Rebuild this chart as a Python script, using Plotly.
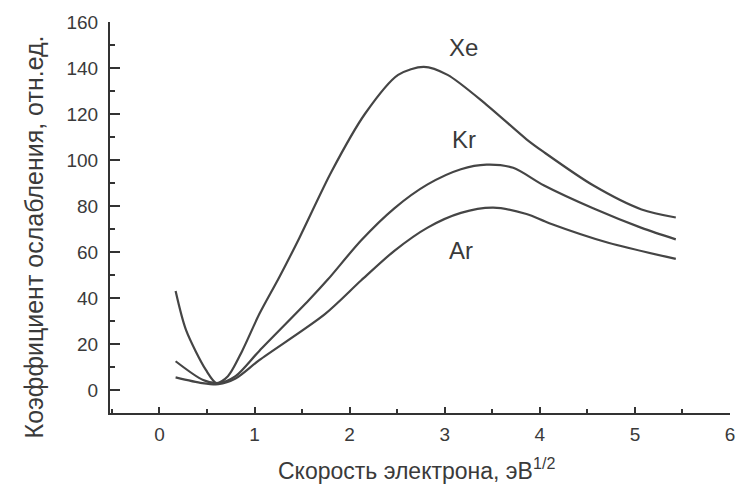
import plotly.graph_objects as go

# Data
xe_x = [0.17, 0.28, 0.49, 0.6, 0.72, 0.87, 1.05, 1.26, 1.47, 1.81, 2.16, 2.51, 2.78, 3.03, 3.44, 3.86, 4.04, 4.56, 5.07, 5.43]
xe_y = [43, 26, 8.6, 3, 6, 17, 33, 49, 66, 95, 120, 137, 140.5, 137, 124, 109, 103.5, 89, 78.5, 75]

kr_x = [0.17, 0.46, 0.62, 0.8, 1.05, 1.57, 1.77, 2.12, 2.47, 2.82, 3.17, 3.44, 3.72, 4.04, 4.56, 5.07, 5.43]
kr_y = [12.5, 4.3, 3, 6, 17, 39, 48, 65, 79, 89.4, 96, 98, 96.6, 89, 79, 70.5, 65.5]

ar_x = [0.17, 0.45, 0.62, 0.8, 1.05, 1.74, 2.12, 2.47, 2.82, 3.17, 3.51, 3.86, 4.1, 4.72, 5.43]
ar_y = [5.5, 3, 2.5, 5, 13, 33, 47.6, 60.5, 70.6, 77, 79.3, 76.5, 72.5, 64, 57]

series_names = ["Xe", "Kr", "Ar"]
label_x = [3.2, 3.2, 3.17]
label_y = [149, 109, 60.5]

x_ticks = [0, 1, 2, 3, 4, 5, 6]
y_ticks = [0, 20, 40, 60, 80, 100, 120, 140, 160]

line_color = "#454545"
text_color = "#3a3a3a"
font_family = "Liberation Sans, Arial, sans-serif"

fig = go.Figure()
for xs, ys, nm in [(xe_x, xe_y, "Xe"), (kr_x, kr_y, "Kr"), (ar_x, ar_y, "Ar")]:
    fig.add_trace(go.Scatter(
        x=xs, y=ys, mode="lines", name=nm,
        line=dict(color=line_color, width=2.2, shape="spline", smoothing=0.8),
        showlegend=False, hoverinfo="skip"))

annotations = []
for nm, lx, ly in zip(series_names, label_x, label_y):
    annotations.append(dict(x=lx, y=ly, xref="x", yref="y", text=nm, showarrow=False,
                            font=dict(size=24, color=text_color, family=font_family)))

annotations.append(dict(x=-0.122, y=0.45, xref="paper", yref="paper",
                        xanchor="center", yanchor="middle",
                        text="Коэффициент ослабления, отн.ед.", textangle=-90, showarrow=False,
                        font=dict(size=25, color=text_color, family=font_family)))
annotations.append(dict(x=0.494, y=-0.143, xref="paper", yref="paper",
                        xanchor="center", yanchor="middle",
                        text="Скорость электрона, эВ<sup>1/2</sup>", showarrow=False,
                        font=dict(size=23, color=text_color, family=font_family)))

axis_common = dict(
    showgrid=False, zeroline=False, showline=True, linecolor="#333333", linewidth=2,
    ticks="inside", tickcolor="#333333", tickwidth=1.5,
    tickfont=dict(size=19, color=text_color, family=font_family),
)

fig.update_layout(
    width=747, height=488,
    margin=dict(l=110, r=12, t=20, b=75),
    paper_bgcolor="white", plot_bgcolor="white",
    xaxis=dict(range=[-0.52, 6], tickvals=x_ticks, ticklen=6,
               minor=dict(dtick=0.5, ticklen=4, ticks="inside", tickcolor="#333333", tickwidth=1.5),
               ticklabelstandoff=3, **axis_common),
    yaxis=dict(range=[-10, 160], tickvals=y_ticks, ticklen=10,
               minor=dict(dtick=10, ticklen=5, ticks="inside", tickcolor="#333333", tickwidth=1.5),
               ticklabelstandoff=6, **axis_common),
    annotations=annotations,
)

fig.write_html("out.html")
